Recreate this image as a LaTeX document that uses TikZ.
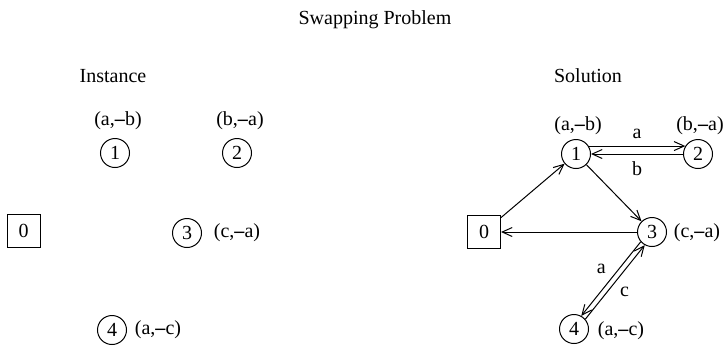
\documentclass[tikz,border=0pt]{standalone}
\usepackage{fontspec}
\setmainfont{Liberation Serif}
\usetikzlibrary{arrows.meta}
\newcommand{\mdash}{\textbf{--}}

\begin{document}
\begin{tikzpicture}[x=0.5pt,y=-0.5pt,line width=0.5pt,
  >={Straight Barb[length=5pt,width=4.5pt]},
  font=\fontsize{10}{12}\selectfont,
  vtx/.style={draw,circle,minimum size=14.5pt,inner sep=0pt},
  depot/.style={draw,rectangle,minimum size=16.5pt,inner sep=0pt},
  pair/.style={inner sep=0pt}]
\useasboundingbox (0,0) rectangle (723,345);
\node (title) at (375,20) {Swapping Problem};
\node (inst) at (113,76) {Instance};
\node (sol) at (588,76) {Solution};
% instance
\node[depot] (i0) at (23.5,231) {0};
\node[vtx] (i1) at (115,153) {1};
\node[vtx] (i2) at (237,153) {2};
\node[vtx] (i3) at (187,233) {3};
\node[vtx] (i4) at (112,330) {4};
\node[pair] (i1p) at (118,121) {(a,\mdash b)};
\node[pair] (i2p) at (240,121) {(b,\mdash a)};
\node[pair] (i3p) at (237,233) {(c,\mdash a)};
\node[pair] (i4p) at (158,330) {(a,\mdash c)};
% solution
\node[depot] (s0) at (484,232) {0};
\node[vtx] (s1) at (576,154) {1};
\node[vtx] (s2) at (698,154) {2};
\node[vtx] (s3) at (652,232) {3};
\node[vtx] (s4) at (574,329) {4};
\node[pair] (s1p) at (578,126) {(a,\mdash b)};
\node[pair] (s2p) at (700,126) {(b,\mdash a)};
\node[pair] (s3p) at (697,233) {(c,\mdash a)};
\node[pair] (s4p) at (621,331) {(a,\mdash c)};
\draw[->] (s0) -- (s1);
\draw[->] (s1) -- (s3);
\draw[->] (s3) -- (s0);
\draw[->] (s1.32) -- node[above] {a} (s2.148);
\draw[->] (s2.180) -- node[below] {b} (s1.0);
\draw[->] (s3.221) -- node[above left=-1pt] {a} (s4.61);
\draw[->] (s4.41) -- node[below right=-1pt] {c} (s3.241);
\end{tikzpicture}
\end{document}
